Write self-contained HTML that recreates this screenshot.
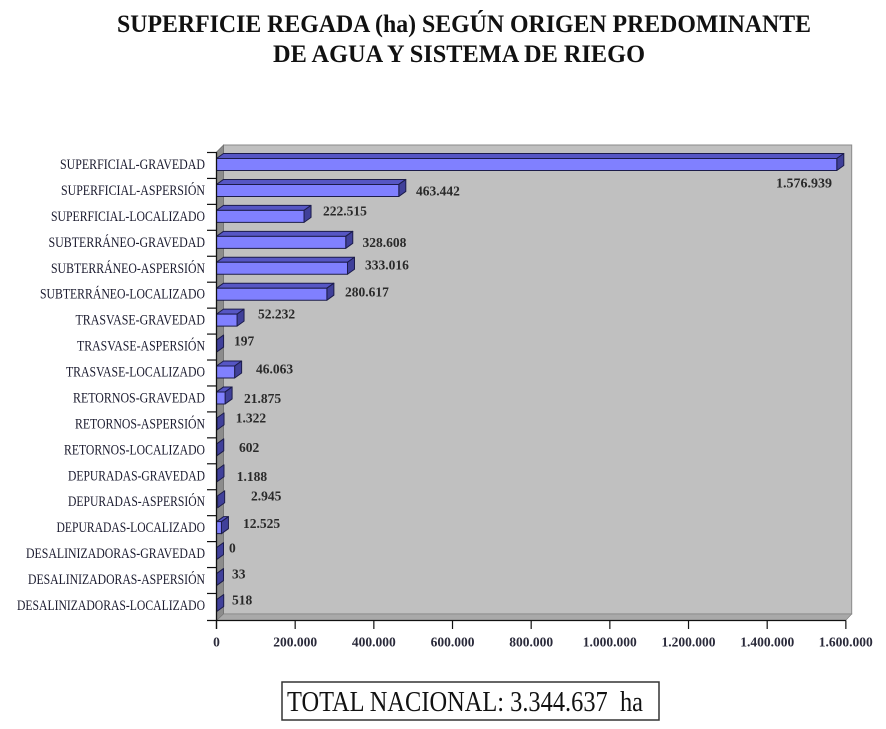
<!DOCTYPE html>
<html>
<head>
<meta charset="utf-8">
<style>
html,body{margin:0;padding:0;background:#fff;}
svg{display:block;}
text{font-family:"Liberation Serif","Times New Roman",serif;}
</style>
</head>
<body>
<svg width="886" height="729" viewBox="0 0 886 729" xmlns="http://www.w3.org/2000/svg">
<rect x="0" y="0" width="886" height="729" fill="#ffffff"/>
<!-- Title -->
<text x="117" y="32" font-size="25" font-weight="bold" fill="#111" textLength="694" lengthAdjust="spacingAndGlyphs">SUPERFICIE REGADA (ha) SEGÚN ORIGEN PREDOMINANTE</text>
<text x="273" y="62" font-size="25" font-weight="bold" fill="#111" textLength="372" lengthAdjust="spacingAndGlyphs">DE AGUA Y SISTEMA DE RIEGO</text>

<!-- Walls -->
<rect x="223.5" y="145" width="628.2" height="469" fill="#c0c0c0" stroke="#8a8a8a" stroke-width="1"/>
<polygon points="216.5,152 223.5,145 223.5,614 216.5,620.5" fill="#8c8c8c" stroke="#6a6a6a" stroke-width="0.6"/>
<polygon points="216.5,620.5 223.5,614 851.7,614 845.7,620.5" fill="#a9a9a9" stroke="#7a7a7a" stroke-width="0.6"/>

<!-- Bars -->
<g stroke="#1c1c4a" stroke-width="1" stroke-linejoin="round">
<g transform="translate(0,152.5)">
<polygon points="216.5,6 223.5,1 843.79,1 836.79,6" fill="#5656c4"/>
<polygon points="836.79,6 843.79,1 843.79,13 836.79,18" fill="#40409a"/>
<rect x="216.5" y="6" width="620.29" height="12" fill="#8080ff"/>
</g>
<g transform="translate(0,178.44)">
<polygon points="216.5,6 223.5,1 405.8,1 398.8,6" fill="#5656c4"/>
<polygon points="398.8,6 405.8,1 405.8,13 398.8,18" fill="#40409a"/>
<rect x="216.5" y="6" width="182.3" height="12" fill="#8080ff"/>
</g>
<g transform="translate(0,204.38)">
<polygon points="216.5,6 223.5,1 311.03,1 304.03,6" fill="#5656c4"/>
<polygon points="304.03,6 311.03,1 311.03,13 304.03,18" fill="#40409a"/>
<rect x="216.5" y="6" width="87.53" height="12" fill="#8080ff"/>
</g>
<g transform="translate(0,230.32)">
<polygon points="216.5,6 223.5,1 352.76,1 345.76,6" fill="#5656c4"/>
<polygon points="345.76,6 352.76,1 352.76,13 345.76,18" fill="#40409a"/>
<rect x="216.5" y="6" width="129.26" height="12" fill="#8080ff"/>
</g>
<g transform="translate(0,256.26)">
<polygon points="216.5,6 223.5,1 354.49,1 347.49,6" fill="#5656c4"/>
<polygon points="347.49,6 354.49,1 354.49,13 347.49,18" fill="#40409a"/>
<rect x="216.5" y="6" width="130.99" height="12" fill="#8080ff"/>
</g>
<g transform="translate(0,282.2)">
<polygon points="216.5,6 223.5,1 333.88,1 326.88,6" fill="#5656c4"/>
<polygon points="326.88,6 333.88,1 333.88,13 326.88,18" fill="#40409a"/>
<rect x="216.5" y="6" width="110.38" height="12" fill="#8080ff"/>
</g>
<g transform="translate(0,308.14)">
<polygon points="216.5,6 223.5,1 244.05,1 237.05,6" fill="#5656c4"/>
<polygon points="237.05,6 244.05,1 244.05,13 237.05,18" fill="#40409a"/>
<rect x="216.5" y="6" width="20.55" height="12" fill="#8080ff"/>
</g>
<g transform="translate(0,334.08)">
<polygon points="216.58,6 223.58,1 223.58,13 216.58,18" fill="#40409a"/>
</g>
<g transform="translate(0,360.02)">
<polygon points="216.5,6 223.5,1 241.62,1 234.62,6" fill="#5656c4"/>
<polygon points="234.62,6 241.62,1 241.62,13 234.62,18" fill="#40409a"/>
<rect x="216.5" y="6" width="18.12" height="12" fill="#8080ff"/>
</g>
<g transform="translate(0,385.96)">
<polygon points="216.5,6 223.5,1 232.1,1 225.1,6" fill="#5656c4"/>
<polygon points="225.1,6 232.1,1 232.1,13 225.1,18" fill="#40409a"/>
<rect x="216.5" y="6" width="8.6" height="12" fill="#8080ff"/>
</g>
<g transform="translate(0,411.9)">
<polygon points="217.02,6 224.02,1 224.02,13 217.02,18" fill="#40409a"/>
</g>
<g transform="translate(0,437.84)">
<polygon points="216.74,6 223.74,1 223.74,13 216.74,18" fill="#40409a"/>
</g>
<g transform="translate(0,463.78)">
<polygon points="216.97,6 223.97,1 223.97,13 216.97,18" fill="#40409a"/>
</g>
<g transform="translate(0,489.72)">
<polygon points="217.66,6 224.66,1 224.66,13 217.66,18" fill="#40409a"/>
</g>
<g transform="translate(0,515.66)">
<polygon points="216.5,6 223.5,1 228.43,1 221.43,6" fill="#5656c4"/>
<polygon points="221.43,6 228.43,1 228.43,13 221.43,18" fill="#40409a"/>
<rect x="216.5" y="6" width="4.93" height="12" fill="#8080ff"/>
</g>
<g transform="translate(0,541.6)">
<polygon points="216.5,6 223.5,1 223.5,13 216.5,18" fill="#40409a"/>
</g>
<g transform="translate(0,567.54)">
<polygon points="216.51,6 223.51,1 223.51,13 216.51,18" fill="#40409a"/>
</g>
<g transform="translate(0,593.48)">
<polygon points="216.7,6 223.7,1 223.7,13 216.7,18" fill="#40409a"/>
</g>
</g>

<!-- Axes -->
<g stroke="#111" stroke-width="1.3" fill="none">
<line x1="216.5" y1="152" x2="216.5" y2="629"/>
<line x1="207" y1="620.5" x2="845.9" y2="620.5"/>
</g>
<g stroke="#111" stroke-width="1.2">
<line x1="207" y1="152.5" x2="216.5" y2="152.5"/>
<line x1="207" y1="178.44" x2="216.5" y2="178.44"/>
<line x1="207" y1="204.38" x2="216.5" y2="204.38"/>
<line x1="207" y1="230.32" x2="216.5" y2="230.32"/>
<line x1="207" y1="256.26" x2="216.5" y2="256.26"/>
<line x1="207" y1="282.2" x2="216.5" y2="282.2"/>
<line x1="207" y1="308.14" x2="216.5" y2="308.14"/>
<line x1="207" y1="334.08" x2="216.5" y2="334.08"/>
<line x1="207" y1="360.02" x2="216.5" y2="360.02"/>
<line x1="207" y1="385.96" x2="216.5" y2="385.96"/>
<line x1="207" y1="411.9" x2="216.5" y2="411.9"/>
<line x1="207" y1="437.84" x2="216.5" y2="437.84"/>
<line x1="207" y1="463.78" x2="216.5" y2="463.78"/>
<line x1="207" y1="489.72" x2="216.5" y2="489.72"/>
<line x1="207" y1="515.66" x2="216.5" y2="515.66"/>
<line x1="207" y1="541.6" x2="216.5" y2="541.6"/>
<line x1="207" y1="567.54" x2="216.5" y2="567.54"/>
<line x1="207" y1="593.48" x2="216.5" y2="593.48"/>
<line x1="216.5" y1="620.5" x2="216.5" y2="629"/>
<line x1="295.17" y1="620.5" x2="295.17" y2="629"/>
<line x1="373.84" y1="620.5" x2="373.84" y2="629"/>
<line x1="452.51" y1="620.5" x2="452.51" y2="629"/>
<line x1="531.18" y1="620.5" x2="531.18" y2="629"/>
<line x1="609.85" y1="620.5" x2="609.85" y2="629"/>
<line x1="688.52" y1="620.5" x2="688.52" y2="629"/>
<line x1="767.19" y1="620.5" x2="767.19" y2="629"/>
<line x1="845.86" y1="620.5" x2="845.86" y2="629"/>
</g>

<!-- Category labels -->
<g font-size="15" fill="#1a1a2e">
<text x="60" y="169" textLength="145" lengthAdjust="spacingAndGlyphs">SUPERFICIAL-GRAVEDAD</text>
<text x="61" y="194.9" textLength="144" lengthAdjust="spacingAndGlyphs">SUPERFICIAL-ASPERSIÓN</text>
<text x="51" y="220.9" textLength="154" lengthAdjust="spacingAndGlyphs">SUPERFICIAL-LOCALIZADO</text>
<text x="48.5" y="246.8" textLength="156.5" lengthAdjust="spacingAndGlyphs">SUBTERRÁNEO-GRAVEDAD</text>
<text x="51" y="272.8" textLength="154" lengthAdjust="spacingAndGlyphs">SUBTERRÁNEO-ASPERSIÓN</text>
<text x="40" y="298.7" textLength="165" lengthAdjust="spacingAndGlyphs">SUBTERRÁNEO-LOCALIZADO</text>
<text x="75.5" y="324.6" textLength="129.5" lengthAdjust="spacingAndGlyphs">TRASVASE-GRAVEDAD</text>
<text x="77" y="350.6" textLength="128" lengthAdjust="spacingAndGlyphs">TRASVASE-ASPERSIÓN</text>
<text x="66" y="376.5" textLength="139" lengthAdjust="spacingAndGlyphs">TRASVASE-LOCALIZADO</text>
<text x="73" y="402.5" textLength="132" lengthAdjust="spacingAndGlyphs">RETORNOS-GRAVEDAD</text>
<text x="75" y="428.4" textLength="130" lengthAdjust="spacingAndGlyphs">RETORNOS-ASPERSIÓN</text>
<text x="64" y="454.3" textLength="141" lengthAdjust="spacingAndGlyphs">RETORNOS-LOCALIZADO</text>
<text x="68" y="480.3" textLength="137" lengthAdjust="spacingAndGlyphs">DEPURADAS-GRAVEDAD</text>
<text x="68" y="506.2" textLength="137" lengthAdjust="spacingAndGlyphs">DEPURADAS-ASPERSIÓN</text>
<text x="56.5" y="532.2" textLength="148.5" lengthAdjust="spacingAndGlyphs">DEPURADAS-LOCALIZADO</text>
<text x="26" y="558.1" textLength="179" lengthAdjust="spacingAndGlyphs">DESALINIZADORAS-GRAVEDAD</text>
<text x="28" y="584" textLength="177" lengthAdjust="spacingAndGlyphs">DESALINIZADORAS-ASPERSIÓN</text>
<text x="17" y="610" textLength="188" lengthAdjust="spacingAndGlyphs">DESALINIZADORAS-LOCALIZADO</text>
</g>

<!-- Value labels -->
<g font-size="13.5" font-weight="bold" fill="#2a2a2a">
<text x="776" y="187.5" textLength="56" lengthAdjust="spacingAndGlyphs">1.576.939</text>
<text x="416" y="195.5">463.442</text>
<text x="323" y="215.5">222.515</text>
<text x="362.5" y="247.2">328.608</text>
<text x="365" y="269.5">333.016</text>
<text x="345" y="296.5">280.617</text>
<text x="258" y="318.5">52.232</text>
<text x="234" y="345.5">197</text>
<text x="256" y="373.5">46.063</text>
<text x="244" y="403.2">21.875</text>
<text x="235.7" y="422.5">1.322</text>
<text x="239" y="452.2">602</text>
<text x="236.7" y="481.2">1.188</text>
<text x="251" y="500.5">2.945</text>
<text x="243" y="528.2">12.525</text>
<text x="229" y="552.5">0</text>
<text x="232" y="578.5">33</text>
<text x="232" y="604.5">518</text>
</g>

<!-- X axis labels -->
<g font-size="13.5" font-weight="bold" fill="#2a2a3a" text-anchor="middle">
<text x="216.5" y="646.5">0</text>
<text x="295.2" y="646.5">200.000</text>
<text x="373.8" y="646.5">400.000</text>
<text x="452.5" y="646.5">600.000</text>
<text x="531.2" y="646.5">800.000</text>
<text x="609.8" y="646.5">1.000.000</text>
<text x="688.5" y="646.5">1.200.000</text>
<text x="767.2" y="646.5">1.400.000</text>
<text x="845.8" y="646.5">1.600.000</text>
</g>

<!-- Total box -->
<rect x="282" y="682" width="377" height="38" fill="#fff" stroke="#333" stroke-width="1.5"/>
<text x="287" y="711" font-size="28" fill="#111" textLength="356" lengthAdjust="spacingAndGlyphs">TOTAL NACIONAL: 3.344.637&#160; ha</text>
</svg>
</body>
</html>
